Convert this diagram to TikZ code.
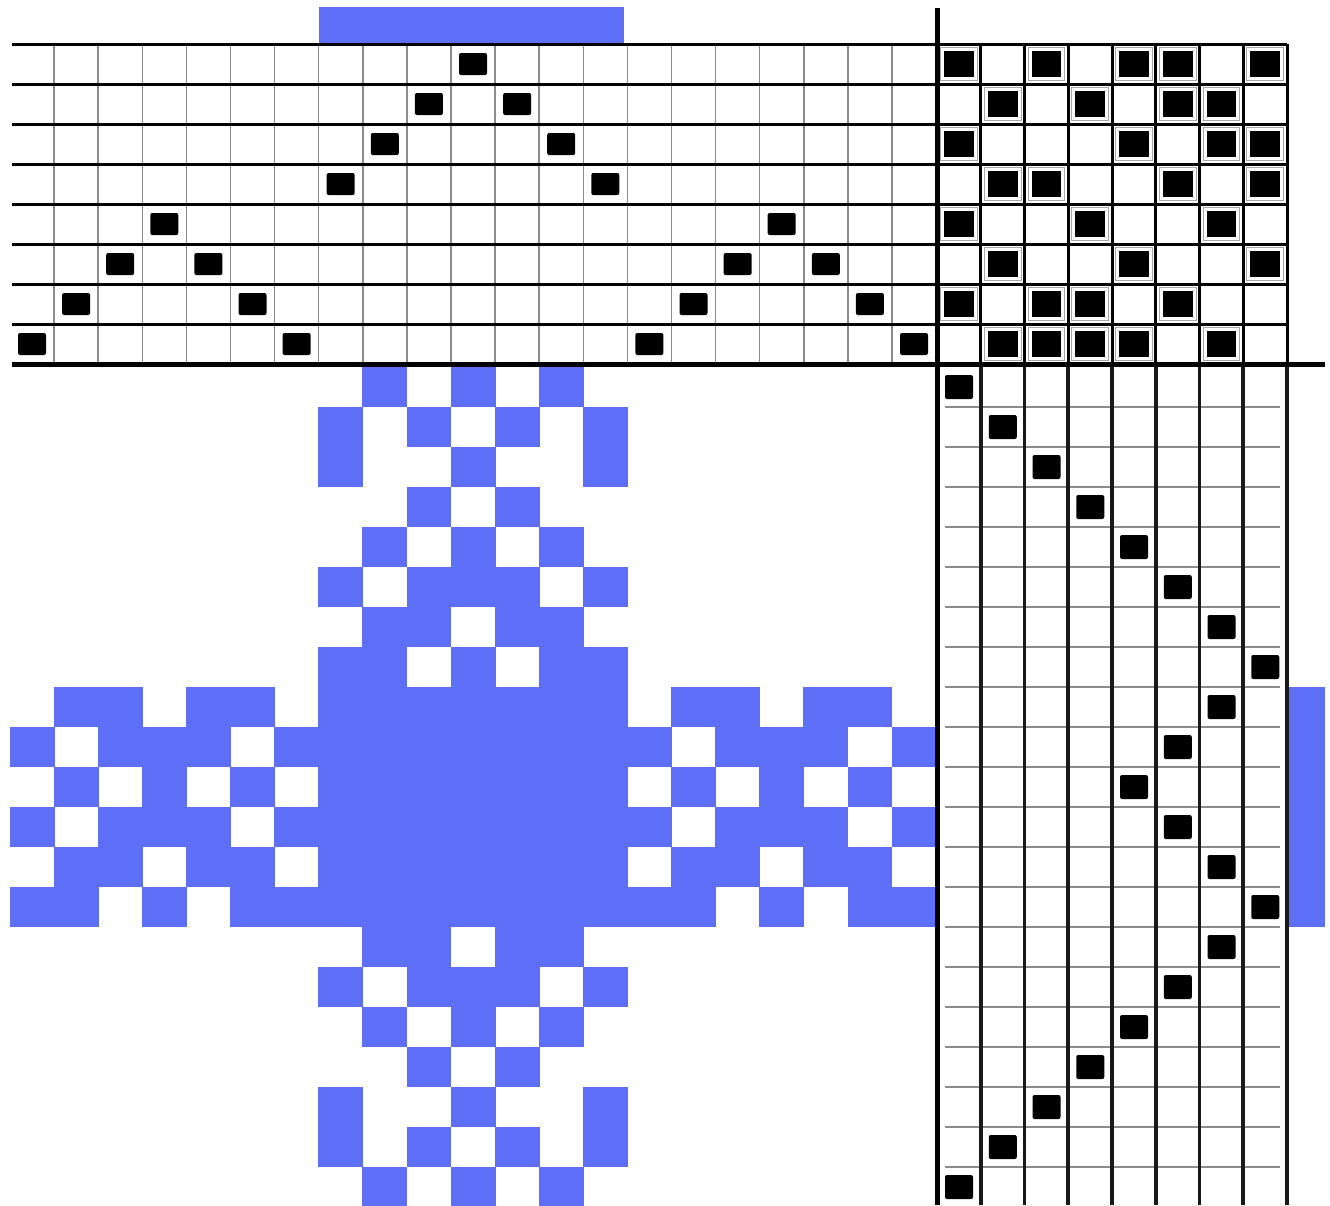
\documentclass[tikz,border=0pt]{standalone}
\definecolor{wblue}{RGB}{93,111,246}
\begin{document}
\begin{tikzpicture}[x=1pt,y=-1pt,
  fabric/.style={fill=wblue},
  threadline/.style={line width=3pt,draw=black},
  fineline/.style={line width=1.5pt,draw=black!45},
  tieline/.style={line width=3pt,draw=black},
  treadline/.style={line width=3.6pt,draw=black!90},
  divider/.style={line width=5pt,draw=black},
  markbox/.style={fill=black,rounded corners=2pt},
  tieframe/.style={draw=black!35,line width=0.8pt}]
\useasboundingbox (0,0) rectangle (1330,1205);
\fill[white] (0,0) rectangle (1330,1205);

% drawdown (pattern)
\foreach \j/\cols in {
  0/{8,10,12},
  1/{7,9,11,13},
  2/{7,10,13},
  3/{9,11},
  4/{8,10,12},
  5/{7,9,10,11,13},
  6/{8,9,11,12},
  7/{7,8,10,12,13},
  8/{1,2,4,5,7,8,9,10,11,12,13,15,16,18,19},
  9/{0,2,3,4,6,7,8,9,10,11,12,13,14,16,17,18,20},
  10/{1,3,5,7,8,9,10,11,12,13,15,17,19},
  11/{0,2,3,4,6,7,8,9,10,11,12,13,14,16,17,18,20},
  12/{1,2,4,5,7,8,9,10,11,12,13,15,16,18,19},
  13/{0,1,3,5,6,7,8,9,10,11,12,13,14,15,17,19,20},
  14/{8,9,11,12},
  15/{7,9,10,11,13},
  16/{8,10,12},
  17/{9,11},
  18/{7,10,13},
  19/{7,9,11,13},
  20/{8,10,12}}{
  \foreach \i in \cols {
    \fill[fabric] ({10+44.1*\i-0.4},{367+40*\j-0.4}) rectangle ({10+44.1*(\i+1)+0.4},{367+40*(\j+1)+0.4});
  }
}

% block bars
\fill[fabric] ({10+44.1*7},7) rectangle (624,43);
\fill[fabric] (1288,687) rectangle (1325,927);

% threading grid
\foreach \i in {1,...,20} \draw[fineline] ({10+44.1*\i},44) -- ({10+44.1*\i},364);
\foreach \r in {0,...,7} \draw[threadline] (12,{44+40*\r}) -- (937,{44+40*\r});
\foreach \i/\r in {0/7,1/6,2/5,3/4,4/5,5/6,6/7,7/3,8/2,9/1,10/0,11/1,12/2,13/3,14/7,15/6,16/5,17/4,18/5,19/6,20/7}
  \fill[markbox] ({10+44.1*\i+8},{44+40*\r+9}) rectangle ({10+44.1*\i+36},{44+40*\r+31});

% tie-up grid
\foreach \r in {0,...,7} \draw[tieline] (937,{44+40*\r}) -- (1287,{44+40*\r});
\foreach \k in {1,...,8} \draw[tieline] ({937+43.75*\k},44) -- ({937+43.75*\k},364);
\foreach \r/\k in {0/0,0/2,0/4,0/5,0/7,1/1,1/3,1/5,1/6,2/0,2/4,2/6,2/7,3/1,3/2,3/5,3/7,4/0,4/3,4/6,5/1,5/4,5/7,6/0,6/2,6/3,6/5,7/1,7/2,7/3,7/4,7/6}{
  \draw[tieframe] ({937+43.75*\k+3.5},{44+40*\r+3.5}) rectangle ({937+43.75*(\k+1)-3.5},{44+40*(\r+1)-3.5});
  \fill[black] ({937+43.75*\k+7},{44+40*\r+7}) rectangle ({937+43.75*(\k+1)-7},{44+40*(\r+1)-7});
}

% treadling grid
\foreach \j in {1,...,20} \draw[fineline] (945,{367+40*\j}) -- (1280,{367+40*\j});
\foreach \k in {1,...,8} \draw[treadline] ({937+43.75*\k},364) -- ({937+43.75*\k},1205);
\foreach \j/\k in {0/0,1/1,2/2,3/3,4/4,5/5,6/6,7/7,8/6,9/5,10/4,11/5,12/6,13/7,14/6,15/5,16/4,17/3,18/2,19/1,20/0}
  \fill[markbox] ({937+43.75*\k+8},{367+40*\j+8}) rectangle ({937+43.75*\k+36},{367+40*\j+32});

% dividers
\draw[divider] (937,8) -- (937,1205);
\draw[divider] (12,364) -- (1325,364);
\end{tikzpicture}
\end{document}
